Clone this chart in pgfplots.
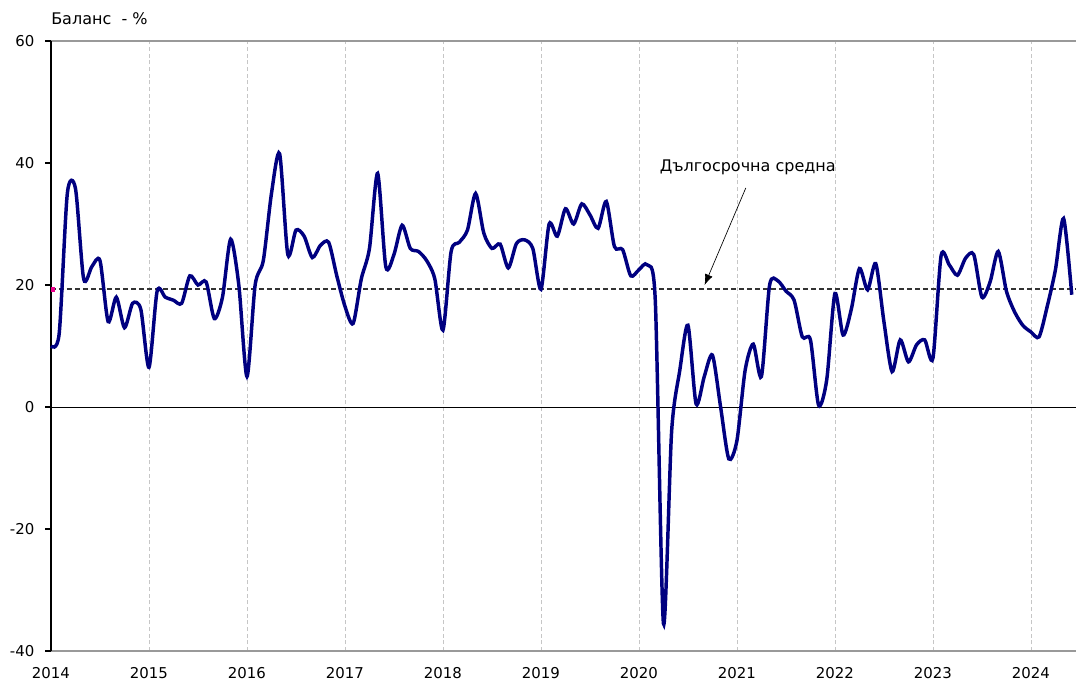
\documentclass[border=0pt]{standalone}
\usepackage{fontspec}
\setmainfont{DejaVu Sans}
\usepackage{pgfplots}
\usepackage{pgfplotstable}
\pgfplotsset{compat=1.18}
\usetikzlibrary{arrows.meta}
\definecolor{navyline}{RGB}{0,0,128}
\pgfplotstableread{
m y
0 10
1 12
2 35
3 35.8
4 21
5 23
6 24
7 14
8 18
9 13
10 17
11 16
12 6.5
13 19
14 18
15 17.5
16 17
17 21.5
18 20
19 20.5
20 14.5
21 18
22 27.5
23 20
24 5
25 20
26 24
27 35
28 41.5
29 25
30 29
31 28
32 24.5
33 26.5
34 27
35 21.5
36 16.5
37 13.7
38 21
39 26
40 38.3
41 23
42 25
43 29.8
44 26
45 25.5
46 24
47 21
48 12.6
49 25.5
50 27
51 29
52 35
53 28.5
54 26
55 26.7
56 22.8
57 26.8
58 27.4
59 26
60 19.3
61 30
62 28
63 32.5
64 30
65 33.3
66 31.5
67 29.3
68 33.7
69 26.3
70 25.8
71 21.5
72 22.5
73 23.3
74 17.5
75 -35.5
76 -4
77 6
78 13.4
79 0.5
80 5
81 8.5
82 0
83 -8.5
84 -5.5
85 6
86 10.3
87 5
88 20
89 20.7
90 19
91 17.5
92 11.5
93 11
94 0.3
95 4.5
96 18.6
97 11.8
98 16
99 22.7
100 19.2
101 23.5
102 14
103 5.8
104 11
105 7.4
106 10.2
107 11
108 8
109 24.8
110 23.3
111 21.6
112 24.4
113 25
114 18
115 20.5
116 25.5
117 19
118 15.6
119 13.4
120 12.3
121 11.5
122 16.5
123 22.5
124 30.9
125 18.4
}\balance
\begin{document}
\begin{tikzpicture}
\begin{axis}[
  name=ax,
  scale only axis,
  width=768.75pt, height=457.5pt,
  xmin=2014, xmax=2024.46,
  ymin=-40, ymax=60,
  xtick={2014,2015,...,2024},
  xticklabel style={/pgf/number format/1000 sep=, yshift=-4pt},
  yticklabel style={xshift=-4.5pt},
  ytick={-40,-20,0,20,40,60},
  xmajorgrids,
  grid style={densely dashed, gray!45, line width=0.6pt},
  axis line style={draw=none},
  tick style={black, line width=0.8pt},
  major tick length=4.5pt,
  tick align=outside,
  xtick style={draw=none},
  ytick pos=left, xtick pos=bottom,
  /pgf/number format/assume math mode=true,
  ticklabel style={font=\fontsize{11.2pt}{13pt}\selectfont},
  clip=false,
]
\draw[gray!80, line width=0.9pt] (rel axis cs:0,1) -- (rel axis cs:1,1);
\draw[gray!80, line width=0.9pt] (rel axis cs:0,0) -- (rel axis cs:1,0);
\draw[black, line width=1pt] (rel axis cs:0,0) -- (rel axis cs:0,1);
\addplot[black, line width=0.7pt] coordinates {(2014,0) (2024.46,0)};
\addplot[black!80, line width=0.8pt, dash pattern=on 3.5pt off 2.5pt] coordinates {(2014,19.34) (2024.46,19.34)};
\addplot[navyline, line width=2.6pt, smooth, tension=0.45] table[x expr=2014+\thisrow{m}/12, y=y] {\balance};
\addplot[only marks, mark=square*, mark size=1.3pt, magenta] coordinates {(2014.02,19.3)};
\draw[-{Latex[length=8pt,width=6pt]}, line width=0.5pt] (axis cs:2021.09,35.9) -- (axis cs:2020.67,20.0);
\node[font=\fontsize{12pt}{14pt}\selectfont] at (axis cs:2021.11,39.3) {Дългосрочна средна};
\node[anchor=base west, inner sep=0pt, font=\fontsize{12pt}{14pt}\selectfont] at ([yshift=12pt]rel axis cs:0,1) {Баланс\ \ - \%};
\end{axis}
\pgfresetboundingbox
\path[use as bounding box] ([xshift=-38.25pt,yshift=-23.25pt]ax.south west) rectangle ([yshift=30.75pt]ax.north east);
\end{tikzpicture}
\end{document}
